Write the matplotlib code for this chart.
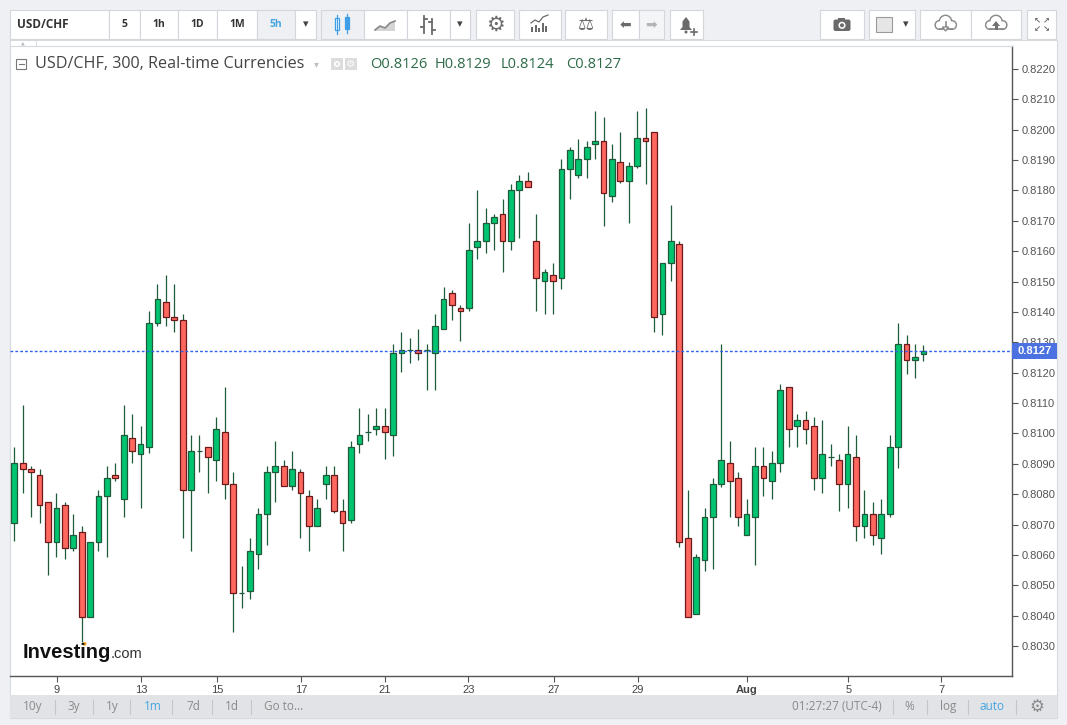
import matplotlib
matplotlib.use('Agg')
import matplotlib.pyplot as plt
from matplotlib.patches import Rectangle, FancyBboxPatch, Circle, Polygon
import matplotlib.patheffects as pe
import numpy as np

# ---------------- data ----------------
symbol = 'USD/CHF'
title = 'USD/CHF, 300, Real-time Currencies'

opens = [
    0.80704, 0.80902, 0.80882, 0.80862, 0.80773, 0.80643, 0.80763, 0.80622, 0.80674, 0.80394,
    0.80643, 0.80793, 0.80862, 0.80783, 0.80984, 0.80931, 0.80954, 0.81363, 0.81432, 0.81383,
    0.81373, 0.80813, 0.80941, 0.80954, 0.80912, 0.81004, 0.80833, 0.80474, 0.80482, 0.80602,
    0.80734, 0.80872, 0.80892, 0.80826, 0.80872, 0.80793, 0.80694, 0.80833, 0.80862, 0.80744,
    0.80714, 0.80964, 0.81004, 0.81014, 0.81023, 0.80994, 0.81264, 0.81274, 0.81274, 0.81274,
    0.81264, 0.81344, 0.81461, 0.81412, 0.81412, 0.81613, 0.81633, 0.81692, 0.81722, 0.81633,
    0.81801, 0.81830, 0.81633, 0.81501, 0.81521, 0.81511, 0.81870, 0.81850, 0.81903, 0.81952,
    0.81962, 0.81781, 0.81893, 0.81830, 0.81880, 0.81972, 0.81991, 0.81392, 0.81560, 0.81623,
    0.80654, 0.80404, 0.80582, 0.80724, 0.80833, 0.80902, 0.80852, 0.80664, 0.80724, 0.80892,
    0.80843, 0.80902, 0.81152, 0.81023, 0.81043, 0.81023, 0.80852, 0.80921, 0.80912, 0.80833,
    0.80921, 0.80694, 0.80734, 0.80654, 0.80734, 0.80954, 0.81294, 0.81241, 0.81260]

highs = [
    0.80954, 0.81092, 0.80893, 0.80882, 0.80773, 0.80803, 0.80773, 0.80734, 0.80695, 0.80643,
    0.80814, 0.80893, 0.80903, 0.81092, 0.81063, 0.81024, 0.81403, 0.81492, 0.81522, 0.81492,
    0.81392, 0.80995, 0.80995, 0.80954, 0.81054, 0.81153, 0.80872, 0.80563, 0.80655, 0.80755,
    0.80892, 0.80975, 0.80912, 0.80942, 0.80882, 0.80813, 0.80783, 0.80892, 0.80892, 0.80783,
    0.80974, 0.81083, 0.81063, 0.81083, 0.81083, 0.81293, 0.81333, 0.81313, 0.81343, 0.81293,
    0.81392, 0.81481, 0.81471, 0.81422, 0.81692, 0.81801, 0.81741, 0.81722, 0.81771, 0.81820,
    0.81851, 0.81860, 0.81722, 0.81540, 0.81560, 0.81903, 0.81942, 0.81971, 0.81962, 0.82061,
    0.82041, 0.81952, 0.81992, 0.81893, 0.82061, 0.82071, 0.81991, 0.81560, 0.81752, 0.81633,
    0.80814, 0.80603, 0.80754, 0.80853, 0.81294, 0.80975, 0.80872, 0.80783, 0.80955, 0.80955,
    0.80941, 0.81162, 0.81152, 0.81063, 0.81073, 0.81053, 0.81043, 0.80964, 0.80931, 0.81023,
    0.80994, 0.80813, 0.80773, 0.80783, 0.80994, 0.81363, 0.81323, 0.81294, 0.81290]

lows = [
    0.80647, 0.80805, 0.80726, 0.80704, 0.80535, 0.80594, 0.80586, 0.80614, 0.80314, 0.80394,
    0.80614, 0.80594, 0.80844, 0.80726, 0.80904, 0.80756, 0.80934, 0.81354, 0.81354, 0.81334,
    0.80657, 0.80614, 0.80874, 0.80805, 0.80844, 0.80785, 0.80347, 0.80426, 0.80456, 0.80555,
    0.80634, 0.80775, 0.80826, 0.80815, 0.80657, 0.80614, 0.80694, 0.80785, 0.80737, 0.80614,
    0.80705, 0.80934, 0.80976, 0.80994, 0.80915, 0.80925, 0.81202, 0.81233, 0.81243, 0.81144,
    0.81144, 0.81344, 0.81375, 0.81305, 0.81404, 0.81573, 0.81595, 0.81605, 0.81533, 0.81605,
    0.81645, 0.81811, 0.81404, 0.81394, 0.81394, 0.81474, 0.81773, 0.81842, 0.81842, 0.81905,
    0.81684, 0.81763, 0.81824, 0.81694, 0.81873, 0.81822, 0.81335, 0.81325, 0.81503, 0.80625,
    0.80394, 0.80404, 0.80546, 0.80555, 0.80825, 0.80726, 0.80696, 0.80664, 0.80566, 0.80795,
    0.80785, 0.80874, 0.80956, 0.80956, 0.80966, 0.80815, 0.80805, 0.80894, 0.80746, 0.80756,
    0.80647, 0.80657, 0.80634, 0.80604, 0.80726, 0.80885, 0.81194, 0.81184, 0.81240]

closes = [
    0.80902, 0.80882, 0.80872, 0.80763, 0.80643, 0.80754, 0.80622, 0.80664, 0.80394, 0.80643,
    0.80793, 0.80852, 0.80852, 0.80994, 0.80941, 0.80964, 0.81363, 0.81442, 0.81383, 0.81373,
    0.80814, 0.80941, 0.80941, 0.80921, 0.81014, 0.80833, 0.80474, 0.80474, 0.80612, 0.80734,
    0.80872, 0.80892, 0.80826, 0.80882, 0.80803, 0.80694, 0.80754, 0.80862, 0.80744, 0.80704,
    0.80954, 0.80994, 0.81004, 0.81023, 0.81004, 0.81264, 0.81274, 0.81274, 0.81264, 0.81274,
    0.81353, 0.81442, 0.81422, 0.81402, 0.81603, 0.81633, 0.81692, 0.81712, 0.81633, 0.81801,
    0.81830, 0.81811, 0.81511, 0.81531, 0.81501, 0.81870, 0.81932, 0.81903, 0.81942, 0.81962,
    0.81791, 0.81903, 0.81830, 0.81880, 0.81972, 0.81962, 0.81383, 0.81560, 0.81633, 0.80644,
    0.80394, 0.80592, 0.80724, 0.80833, 0.80912, 0.80843, 0.80724, 0.80734, 0.80892, 0.80852,
    0.80902, 0.81142, 0.81014, 0.81043, 0.81014, 0.80852, 0.80931, 0.80921, 0.80833, 0.80931,
    0.80694, 0.80734, 0.80664, 0.80734, 0.80954, 0.81294, 0.81241, 0.81251, 0.81270]

date_labels = ['9', '13', '15', '17', '21', '23', '27', '29', 'Aug', '5', '7']
date_tick_pos = [5.07, 15.1, 24.1, 34.05, 44.05, 53.95, 64.1, 74.1, 87.05, 99.1, 110.1]
price_ticks = [0.8030, 0.8040, 0.8050, 0.8060, 0.8070, 0.8080, 0.8090, 0.8100, 0.8110, 0.8120,
               0.8130, 0.8140, 0.8150, 0.8160, 0.8170, 0.8180, 0.8190, 0.8200, 0.8210, 0.8220]

interval_buttons = ['5', '1h', '1D', '1M', '5h']
range_buttons = ['10y', '3y', '1y', '1m', '7d', '1d', 'Go to...']
clock_text = '01:27:27 (UTC-4)'

# ---------------- style ----------------
plt.rcParams['font.family'] = ['Liberation Sans', 'DejaVu Sans']
UI_FONT = ['Open Sans', 'DejaVu Sans']
SYM_FONT = ['DejaVu Sans']

GREEN = '#00c46f'
GREEN_EDGE = '#1f5a3a'
RED = '#ff675f'
RED_EDGE = '#6a1a1a'
WICK = '#1f5a3a'
BLUE = '#2f62ea'
ICON = '#6a6a6a'
BORDER = '#d3d6db'

W, H = 1067, 725
fig = plt.figure(figsize=(W / 100, H / 100), dpi=100)
fig.patch.set_facecolor('#eef0f3')

# background / frame layer (pixel coordinates)
bg = fig.add_axes([0, 0, 1, 1], zorder=0)
bg.set_xlim(0, W)
bg.set_ylim(H, 0)
bg.axis('off')

bg.add_patch(Rectangle((10, 40), 1047, 678, fc='white', ec='#d8dbe0', lw=0.8))
bg.add_patch(Rectangle((10, 695), 1047, 23, fc='#e2e3e7', ec='none'))
bg.add_patch(Rectangle((10, 40), 26, 6, fc='white', ec=BORDER, lw=0.6))
bg.text(23, 43.2, '\u25B2', fontsize=3.5, color='#bbbbbb', ha='center', va='center', family=SYM_FONT)

# ---------------- main chart ----------------
L, R, T, B = 10, 1012, 46, 676
ax = fig.add_axes([L / W, 1 - B / H, (R - L) / W, (B - T) / H], zorder=2)
ax.set_facecolor('white')

o = np.array(opens)
h = np.array(highs)
l = np.array(lows)
c = np.array(closes)
x = np.arange(len(o))
up = c >= o
fills = np.where(up, GREEN, RED)
edges = np.where(up, GREEN_EDGE, RED_EDGE)

ax.vlines(x, l, h, color=WICK, lw=0.9, zorder=2)
ax.bar(x, np.abs(c - o), bottom=np.minimum(o, c), width=0.68, color=fills,
       edgecolor=edges, linewidth=0.9, zorder=3)

ax.axhline(c[-1], color=BLUE, lw=1.0, ls=(0, (2, 1.5)), zorder=5)

ax.set_xlim(-0.511, 118.53)
ax.set_ylim(0.802012, 0.822757)

ax.yaxis.tick_right()
ax.set_yticks(price_ticks)
ax.set_yticklabels([f'{p:.4f}' for p in price_ticks])
ax.tick_params(axis='y', length=4, width=0.8, color='#555555', labelsize=8,
               labelcolor='#555555', pad=3)
ax.set_xticks(date_tick_pos)
ax.set_xticklabels(date_labels)
ax.tick_params(axis='x', length=4, width=0.8, color='#555555', labelsize=8,
               labelcolor='#444444', pad=2.5)
for lbl in ax.get_xticklabels():
    if lbl.get_text() == 'Aug':
        lbl.set_fontweight('bold')

for s in ['right', 'bottom']:
    ax.spines[s].set_color('#555555')
    ax.spines[s].set_linewidth(1.0)
for s in ['top', 'left']:
    ax.spines[s].set_color('#d6d9de')
    ax.spines[s].set_linewidth(0.8)

# ---------------- overlay layer ----------------
ov = fig.add_axes([0, 0, 1, 1], zorder=10)
ov.set_xlim(0, W)
ov.set_ylim(H, 0)
ov.axis('off')
ov.patch.set_alpha(0)

# last price label
ov.add_patch(Rectangle((1012, 343), 45, 16, fc='#4b72e0', ec='none'))
ov.text(1035, 351.3, f'{c[-1]:.4f}', color='white', fontsize=8, fontweight='bold',
        ha='center', va='center')

# legend header
ov.add_patch(Rectangle((16, 59), 10, 10, fc='white', ec='#777777', lw=0.8))
ov.plot([18.5, 23.5], [64, 64], color='#777777', lw=0.8)
ov.text(35, 64, title, fontsize=11.6, color='#444444', ha='left', va='center', family=UI_FONT)
ov.text(316, 64, '\u25BE', fontsize=7, color='#c0c0c0', ha='center', va='center', family=SYM_FONT)
ov.add_patch(Rectangle((331, 58), 12, 12, fc='#dcdcdc', ec='none'))
ov.add_patch(Circle((337, 64), 3, fc='white', ec='none'))
ov.add_patch(Circle((337, 64), 1.4, fc='#dcdcdc', ec='none'))
ov.add_patch(Rectangle((345, 58), 12, 12, fc='#dcdcdc', ec='none'))
ov.text(351, 64.3, '\u2699', fontsize=7.5, color='white', ha='center', va='center', family=SYM_FONT)
hdr = [('O', o[-1], 370), ('H', h[-1], 435), ('L', l[-1], 501), ('C', c[-1], 566)]
for k, v, xp in hdr:
    ov.text(xp, 64, f'{k}{v:.4f}', fontsize=10.5, color='#2d6a48', ha='left', va='center',
            family=UI_FONT)

# Investing.com logo
ov.text(23, 652, 'Investing', fontsize=14.5, fontweight='bold', color='#111111',
        ha='left', va='center', family=['Liberation Sans'])
ov.text(111, 654.5, '.com', fontsize=10.5, color='#333333', ha='left', va='center',
        family=['Liberation Sans'])
ov.add_patch(Circle((84.6, 643.8), 1.9, fc='#f5a623', ec='none'))

# ---------------- toolbar ----------------
def button(x0, x1, fc='white'):
    bg.add_patch(Rectangle((x0, 10), x1 - x0, 29, fc=fc, ec=BORDER, lw=0.8))


def cloud(cx, cy):
    parts = [(cx - 6, cy + 2, 4.2), (cx, cy - 1.5, 6.0), (cx + 6.5, cy + 2, 4.2)]
    for px, py, r in parts:
        bg.add_patch(Circle((px, py), r, fc='white', ec='#8a8a8a', lw=1.3, zorder=3))
    bg.add_patch(Rectangle((cx - 6, cy + 1), 12.5, 5.2, fc='white', ec='none', zorder=4))
    for px, py, r in parts:
        bg.add_patch(Circle((px, py), r - 0.6, fc='white', ec='none', zorder=4))
    bg.plot([cx - 6, cx + 6.5], [cy + 6.2, cy + 6.2], color='#8a8a8a', lw=1.3, zorder=5)


button(10, 109)
bg.text(17, 24.5, symbol, fontsize=8.5, fontweight='bold', color='#333333', ha='left',
        va='center', family=UI_FONT)
edges_iv = [109, 140, 178, 217, 257, 295]
for i, t in enumerate(interval_buttons):
    sel = (t == '5h')
    button(edges_iv[i], edges_iv[i + 1], '#eef0f3' if sel else 'white')
    bg.text((edges_iv[i] + edges_iv[i + 1]) / 2, 24.5, t, fontsize=7.5, fontweight='bold',
            color='#45a5e0' if sel else '#333333', ha='center', va='center', family=UI_FONT)
button(295, 316)
bg.text(305.5, 24.5, '\u25BE', fontsize=8, color='#444444', ha='center', va='center', family=SYM_FONT)

# chart-type buttons
button(321, 364, '#eef0f3')
bg.plot([337, 337], [15, 34], color='#3e9ee8', lw=0.9)
bg.add_patch(Rectangle((335, 18), 4, 12, fc='white', ec='#3e9ee8', lw=0.9))
bg.plot([347, 347], [14, 33], color='#3e9ee8', lw=0.9)
bg.add_patch(Rectangle((345, 17), 4, 12, fc='#3e9ee8', ec='#3e9ee8', lw=0.9))

button(364, 407)
lx = [375, 380, 385, 390, 395]
ly = [30, 26, 28, 23, 21]
bg.add_patch(Polygon(list(zip(lx, ly)) + [(395, 31), (375, 31)], closed=True,
                     fc='#d5d5d5', ec='none'))
bg.plot(lx, ly, color='#888888', lw=1.2)

button(407, 450)
bg.plot([424, 424], [16, 33], color=ICON, lw=1.3)
bg.plot([421, 424], [27, 27], color=ICON, lw=1.3)
bg.plot([424, 427], [19, 19], color=ICON, lw=1.3)
bg.plot([432, 432], [19, 34], color=ICON, lw=1.3)
bg.plot([429, 432], [22, 22], color=ICON, lw=1.3)
bg.plot([432, 435], [30, 30], color=ICON, lw=1.3)
button(450, 470)
bg.text(460, 24.5, '\u25BE', fontsize=8, color='#444444', ha='center', va='center', family=SYM_FONT)

button(476, 514)
bg.text(495, 24.5, '\u2699', fontsize=15, color=ICON, ha='center', va='center', family=SYM_FONT)

button(519, 561)
for bx, bh in [(531, 5), (534.5, 7), (538, 4), (541.5, 9), (545, 6)]:
    bg.add_patch(Rectangle((bx, 32 - bh), 2.3, bh, fc=ICON, ec='none'))
bg.plot([531, 535, 539, 543, 548], [23, 20, 22, 17, 15], color=ICON, lw=0.9)

button(565, 607)
bg.text(586, 24.5, '\u2696', fontsize=13, color=ICON, ha='center', va='center', family=SYM_FONT)

button(612, 639)
bg.text(625.5, 24.5, '\u2B05', fontsize=10, color=ICON, ha='center', va='center', family=SYM_FONT)
button(639, 664, '#f4f5f7')
bg.text(651.5, 24.5, '\u27A1', fontsize=10, color='#b5b5b5', ha='center', va='center', family=SYM_FONT)

button(670, 703)
bg.add_patch(Polygon([(680, 30), (682.5, 27), (682.5, 21.5), (686, 17), (689.5, 21.5),
                      (689.5, 27), (692, 30)], closed=True, fc=ICON, ec='none'))
bg.add_patch(Circle((686, 32), 1.5, fc=ICON, ec='none'))
bg.plot([691, 697], [31.5, 31.5], color=ICON, lw=1.2)
bg.plot([694, 694], [28.5, 34.5], color=ICON, lw=1.2)

# right-hand toolbar
button(820, 864)
bg.add_patch(FancyBboxPatch((833.5, 19.5), 17, 11.5, boxstyle='round,pad=0,rounding_size=2',
                            fc=ICON, ec='none'))
bg.add_patch(Rectangle((838, 17.5), 7, 3, fc=ICON, ec='none'))
bg.add_patch(Circle((842, 25.3), 3.6, fc='white', ec='none'))
bg.add_patch(Circle((842, 25.3), 2.0, fc=ICON, ec='none'))

button(869, 915)
bg.add_patch(Rectangle((876, 17), 16, 15, fc='#e6e6e6', ec='#9a9a9a', lw=0.8))
bg.text(906, 24.5, '\u25BE', fontsize=8, color='#444444', ha='center', va='center', family=SYM_FONT)

button(920, 971)
cloud(945.5, 23)
bg.plot([945.5, 945.5], [22, 29], color='#8a8a8a', lw=1.2, zorder=6)
bg.add_patch(Polygon([(942.5, 27), (948.5, 27), (945.5, 31)], closed=True, fc='white',
                     ec='#8a8a8a', lw=1.0, zorder=6))
button(971, 1021)
cloud(996, 23)
bg.add_patch(Polygon([(992, 26), (1000, 26), (996, 21)], closed=True, fc='#707070',
                     ec='none', zorder=6))
bg.add_patch(Rectangle((994.5, 26), 3, 4, fc='#707070', ec='none', zorder=6))

button(1027, 1056)
for dx, dy, g in [(-4.5, -4.5, '\u2196'), (4.5, -4.5, '\u2197'), (-4.5, 4.5, '\u2199'), (4.5, 4.5, '\u2198')]:
    bg.text(1041.5 + dx, 24.5 + dy, g, fontsize=6, color=ICON, ha='center', va='center',
            family=SYM_FONT, fontweight='bold')

# ---------------- bottom bar ----------------
rb_x = [33, 74, 112, 153, 193, 232]
for t, xp in zip(range_buttons[:-1], rb_x):
    bg.text(xp, 706.5, t, fontsize=8.5, color='#45a5e0' if t == '1m' else '#8a8a8a',
            ha='center', va='center', family=UI_FONT)
bg.text(264, 706.5, range_buttons[-1], fontsize=8.5, color='#8a8a8a', ha='left', va='center',
        family=UI_FONT)
for sx in [55, 93, 130, 172, 212, 251, 893, 927, 968, 1016]:
    bg.plot([sx, sx], [700, 714], color='#c4c6ca', lw=0.8)
bg.text(836.5, 706.5, clock_text, fontsize=8.5, color='#8a8a8a', ha='center', va='center', family=UI_FONT)
bg.text(909.5, 706.5, '%', fontsize=8.5, color='#8a8a8a', ha='center', va='center', family=UI_FONT)
bg.text(948, 706.5, 'log', fontsize=8.5, color='#8a8a8a', ha='center', va='center', family=UI_FONT)
bg.text(992, 706.5, 'auto', fontsize=8.5, color='#45a5e0', ha='center', va='center', family=UI_FONT)
bg.text(1037, 706.5, '\u2699', fontsize=12, color='#8a8a8a', ha='center', va='center', family=SYM_FONT)

fig.savefig('out.png', dpi=100, facecolor=fig.get_facecolor())
